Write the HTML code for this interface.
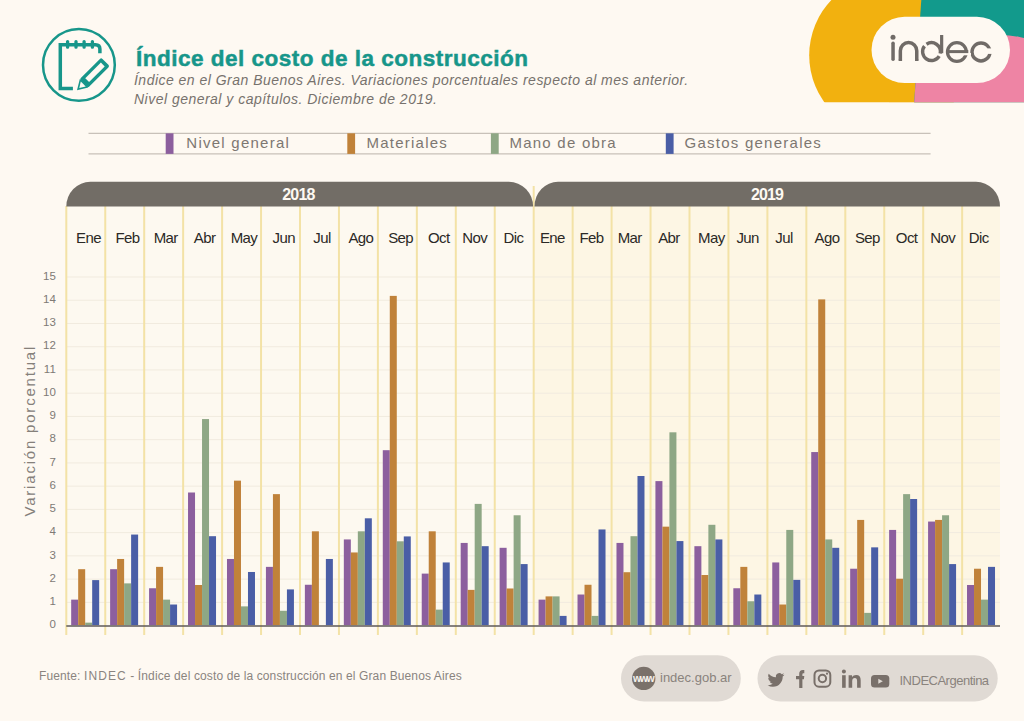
<!DOCTYPE html>
<html><head><meta charset="utf-8"><style>
html,body{margin:0;padding:0;background:#fef9f2;}
body{width:1024px;height:721px;overflow:hidden;position:relative;font-family:"Liberation Sans",sans-serif;}
svg{position:absolute;left:0;top:0;}
text{font-family:"Liberation Sans",sans-serif;}
</style></head><body>
<svg width="1024" height="721" viewBox="0 0 1024 721">
<defs>
<clipPath id="rc"><polygon points="921.3,0 1024,0 1024,102.3 914.2,102.3"/></clipPath>
<clipPath id="yc"><rect x="700" y="0" width="324" height="102.3"/></clipPath>
</defs>
<rect width="1024" height="721" fill="#fef9f2"/>

<g clip-path="url(#yc)"><circle cx="889.2" cy="55.3" r="80" fill="#f2b10f"/><rect x="889" y="0" width="135" height="102.3" fill="#f2b10f"/></g>
<g clip-path="url(#rc)"><rect x="900" y="0" width="124" height="103" fill="#129a8c"/><circle cx="1000" cy="135" r="100" fill="#ee84a4"/></g>
<rect x="871.5" y="16.8" width="138.5" height="66.3" rx="33.15" fill="#fef9f2"/>
<g fill="none" stroke="#706b67" stroke-width="3.5"><path d="M893.05,43.3V59.2" stroke-linecap="round"/><path d="M900.35,59.3V50.75A8.2,8.2 0 0 1 916.75,50.75V59.3" stroke-linecap="round"/><path d="M900.35,59.3V61M916.75,59.3V61"/><path d="M941.65,35V53.2" stroke-width="3.2"/><path d="M926.52,44.27A8.9,8.9 0 0 1 940.21,53.50" stroke-width="3.4"/><path d="M939.21,56.10A8.9,8.9 0 1 1 924.49,46.17" stroke-width="3.4"/><circle cx="956.9" cy="51.95" r="9.4" stroke-width="3.3"/><circle cx="981" cy="51.95" r="9.0" stroke-width="3.4"/></g>
<rect x="957" y="53" width="14" height="2.3" fill="#fef9f2"/>
<rect x="981" y="48.4" width="13" height="5.5" fill="#fef9f2"/>
<rect x="946.5" y="50.1" width="21.8" height="3" fill="#706b67"/>
<circle cx="893.0" cy="37.3" r="2.5" fill="#706b67"/>
<g fill="none" stroke="#17968a">
<circle cx="78.9" cy="64.9" r="35.9" stroke-width="2.5"/>
<path d="M72.9,88.6 H60.3 V44.7 H95.5 Q99.9,44.7 99.9,49.1 V53.3" stroke-width="3.5"/>
<g stroke-width="3.3" stroke-linecap="round"><path d="M67.6,41.6V47.2M76,41.6V47.2M84.1,41.6V47.2M92.4,41.6V47.2"/></g>
</g>
<g transform="translate(77,90.3) rotate(-45)">
<rect x="9.6" y="-6" width="30.6" height="12" rx="1.8" fill="#17968a"/>
<rect x="14.4" y="-2.7" width="22.1" height="5.4" fill="#fef9f2"/>
<polygon points="0,0 10,-6 10,6" fill="#17968a"/>
<polygon points="3.2,0 8.9,-3.5 8.9,3.5" fill="#fef9f2"/>
</g>

<text x="136" y="66" font-size="22.5" font-weight="bold" fill="#17968a" stroke="#17968a" stroke-width="0.5" letter-spacing="0.5">Índice del costo de la construcción</text>
<text x="134" y="84.5" font-size="14" font-style="italic" fill="#77726d" letter-spacing="0.48">Índice en el Gran Buenos Aires. Variaciones porcentuales respecto al mes anterior.</text>
<text x="134" y="104" font-size="14" font-style="italic" fill="#77726d" letter-spacing="0.48">Nivel general y capítulos. Diciembre de 2019.</text>
<g stroke="#c8c1b9" stroke-width="1.2"><line x1="88.5" y1="133.3" x2="930.6" y2="133.3"/><line x1="88.5" y1="153.9" x2="930.6" y2="153.9"/></g>
<rect x="165.7" y="133.3" width="7.8" height="20.6" fill="#8c5f9e"/>
<text x="186.3" y="147.6" font-size="15" letter-spacing="1.25" fill="#7d7771">Nivel general</text>
<rect x="347.3" y="133.3" width="7.8" height="20.6" fill="#c0823a"/>
<text x="366.4" y="147.6" font-size="15" letter-spacing="1.25" fill="#7d7771">Materiales</text>
<rect x="490.9" y="133.3" width="7.8" height="20.6" fill="#8ea785"/>
<text x="509.4" y="147.6" font-size="15" letter-spacing="1.25" fill="#7d7771">Mano de obra</text>
<rect x="665.8" y="133.3" width="7.8" height="20.6" fill="#4a5ea6"/>
<text x="684.5" y="147.6" font-size="15" letter-spacing="1.25" fill="#7d7771">Gastos generales</text>
<rect x="66.3" y="206" width="467.40000000000003" height="420" fill="#fdf9f0"/>
<rect x="533.7" y="206" width="466.3" height="420" fill="#fdf6e4"/>
<line x1="66.3" y1="602.36" x2="1000" y2="602.36" stroke="#f1ebdf" stroke-width="1"/>
<line x1="66.3" y1="579.12" x2="1000" y2="579.12" stroke="#f1ebdf" stroke-width="1"/>
<line x1="66.3" y1="555.88" x2="1000" y2="555.88" stroke="#f1ebdf" stroke-width="1"/>
<line x1="66.3" y1="532.64" x2="1000" y2="532.64" stroke="#f1ebdf" stroke-width="1"/>
<line x1="66.3" y1="509.40" x2="1000" y2="509.40" stroke="#f1ebdf" stroke-width="1"/>
<line x1="66.3" y1="486.16" x2="1000" y2="486.16" stroke="#f1ebdf" stroke-width="1"/>
<line x1="66.3" y1="462.92" x2="1000" y2="462.92" stroke="#f1ebdf" stroke-width="1"/>
<line x1="66.3" y1="439.68" x2="1000" y2="439.68" stroke="#f1ebdf" stroke-width="1"/>
<line x1="66.3" y1="416.44" x2="1000" y2="416.44" stroke="#f1ebdf" stroke-width="1"/>
<line x1="66.3" y1="393.20" x2="1000" y2="393.20" stroke="#f1ebdf" stroke-width="1"/>
<line x1="66.3" y1="369.96" x2="1000" y2="369.96" stroke="#f1ebdf" stroke-width="1"/>
<line x1="66.3" y1="346.72" x2="1000" y2="346.72" stroke="#f1ebdf" stroke-width="1"/>
<line x1="66.3" y1="323.48" x2="1000" y2="323.48" stroke="#f1ebdf" stroke-width="1"/>
<line x1="66.3" y1="300.24" x2="1000" y2="300.24" stroke="#f1ebdf" stroke-width="1"/>
<line x1="66.3" y1="277.00" x2="1000" y2="277.00" stroke="#f1ebdf" stroke-width="1"/>
<line x1="66.30" y1="206" x2="66.30" y2="635" stroke="#f3e2a6" stroke-width="2"/>
<line x1="105.25" y1="206" x2="105.25" y2="635" stroke="#f3e2a6" stroke-width="2"/>
<line x1="144.20" y1="206" x2="144.20" y2="635" stroke="#f3e2a6" stroke-width="2"/>
<line x1="183.15" y1="206" x2="183.15" y2="635" stroke="#f3e2a6" stroke-width="2"/>
<line x1="222.10" y1="206" x2="222.10" y2="635" stroke="#f3e2a6" stroke-width="2"/>
<line x1="261.05" y1="206" x2="261.05" y2="635" stroke="#f3e2a6" stroke-width="2"/>
<line x1="300.00" y1="206" x2="300.00" y2="635" stroke="#f3e2a6" stroke-width="2"/>
<line x1="338.95" y1="206" x2="338.95" y2="635" stroke="#f3e2a6" stroke-width="2"/>
<line x1="377.90" y1="206" x2="377.90" y2="635" stroke="#f3e2a6" stroke-width="2"/>
<line x1="416.85" y1="206" x2="416.85" y2="635" stroke="#f3e2a6" stroke-width="2"/>
<line x1="455.80" y1="206" x2="455.80" y2="635" stroke="#f3e2a6" stroke-width="2"/>
<line x1="494.75" y1="206" x2="494.75" y2="635" stroke="#f3e2a6" stroke-width="2"/>
<line x1="533.70" y1="186" x2="533.70" y2="635" stroke="#f3e2a6" stroke-width="2"/>
<line x1="572.65" y1="206" x2="572.65" y2="635" stroke="#f3e2a6" stroke-width="2"/>
<line x1="611.60" y1="206" x2="611.60" y2="635" stroke="#f3e2a6" stroke-width="2"/>
<line x1="650.55" y1="206" x2="650.55" y2="635" stroke="#f3e2a6" stroke-width="2"/>
<line x1="689.50" y1="206" x2="689.50" y2="635" stroke="#f3e2a6" stroke-width="2"/>
<line x1="728.45" y1="206" x2="728.45" y2="635" stroke="#f3e2a6" stroke-width="2"/>
<line x1="767.40" y1="206" x2="767.40" y2="635" stroke="#f3e2a6" stroke-width="2"/>
<line x1="806.35" y1="206" x2="806.35" y2="635" stroke="#f3e2a6" stroke-width="2"/>
<line x1="845.30" y1="206" x2="845.30" y2="635" stroke="#f3e2a6" stroke-width="2"/>
<line x1="884.25" y1="206" x2="884.25" y2="635" stroke="#f3e2a6" stroke-width="2"/>
<line x1="923.20" y1="206" x2="923.20" y2="635" stroke="#f3e2a6" stroke-width="2"/>
<line x1="962.15" y1="206" x2="962.15" y2="635" stroke="#f3e2a6" stroke-width="2"/>
<path d="M66.3,206.6 A24,24.8 0 0 1 90.3,181.8 H508.8 A24.3,24.8 0 0 1 533.1,206.6 Z" fill="#726d66"/>
<path d="M534.5,206.6 A23.5,24.8 0 0 1 558,181.8 H976 A24,24.8 0 0 1 1000,206.6 Z" fill="#726d66"/>
<text x="298.4" y="199.6" font-size="16" font-weight="bold" fill="#fdf9f2" text-anchor="middle" letter-spacing="-0.85">2018</text>
<text x="767" y="199.6" font-size="16" font-weight="bold" fill="#fdf9f2" text-anchor="middle" letter-spacing="-0.85">2019</text>
<text x="88.5" y="243.4" font-size="15" fill="#2b2926" text-anchor="middle" letter-spacing="-0.6">Ene</text>
<text x="127.5" y="243.4" font-size="15" fill="#2b2926" text-anchor="middle" letter-spacing="-0.6">Feb</text>
<text x="165.7" y="243.4" font-size="15" fill="#2b2926" text-anchor="middle" letter-spacing="-0.6">Mar</text>
<text x="204.6" y="243.4" font-size="15" fill="#2b2926" text-anchor="middle" letter-spacing="-0.6">Abr</text>
<text x="244" y="243.4" font-size="15" fill="#2b2926" text-anchor="middle" letter-spacing="-0.6">May</text>
<text x="283.7" y="243.4" font-size="15" fill="#2b2926" text-anchor="middle" letter-spacing="-0.6">Jun</text>
<text x="322" y="243.4" font-size="15" fill="#2b2926" text-anchor="middle" letter-spacing="-0.6">Jul</text>
<text x="360.9" y="243.4" font-size="15" fill="#2b2926" text-anchor="middle" letter-spacing="-0.6">Ago</text>
<text x="400.6" y="243.4" font-size="15" fill="#2b2926" text-anchor="middle" letter-spacing="-0.6">Sep</text>
<text x="438.8" y="243.4" font-size="15" fill="#2b2926" text-anchor="middle" letter-spacing="-0.6">Oct</text>
<text x="474.8" y="243.4" font-size="15" fill="#2b2926" text-anchor="middle" letter-spacing="-0.6">Nov</text>
<text x="513.5" y="243.4" font-size="15" fill="#2b2926" text-anchor="middle" letter-spacing="-0.6">Dic</text>
<text x="552.4" y="243.4" font-size="15" fill="#2b2926" text-anchor="middle" letter-spacing="-0.6">Ene</text>
<text x="591.5" y="243.4" font-size="15" fill="#2b2926" text-anchor="middle" letter-spacing="-0.6">Feb</text>
<text x="629.7" y="243.4" font-size="15" fill="#2b2926" text-anchor="middle" letter-spacing="-0.6">Mar</text>
<text x="668.9" y="243.4" font-size="15" fill="#2b2926" text-anchor="middle" letter-spacing="-0.6">Abr</text>
<text x="711.3" y="243.4" font-size="15" fill="#2b2926" text-anchor="middle" letter-spacing="-0.6">May</text>
<text x="747.6" y="243.4" font-size="15" fill="#2b2926" text-anchor="middle" letter-spacing="-0.6">Jun</text>
<text x="784" y="243.4" font-size="15" fill="#2b2926" text-anchor="middle" letter-spacing="-0.6">Jul</text>
<text x="827" y="243.4" font-size="15" fill="#2b2926" text-anchor="middle" letter-spacing="-0.6">Ago</text>
<text x="867.4" y="243.4" font-size="15" fill="#2b2926" text-anchor="middle" letter-spacing="-0.6">Sep</text>
<text x="906.6" y="243.4" font-size="15" fill="#2b2926" text-anchor="middle" letter-spacing="-0.6">Oct</text>
<text x="942.8" y="243.4" font-size="15" fill="#2b2926" text-anchor="middle" letter-spacing="-0.6">Nov</text>
<text x="978.8" y="243.4" font-size="15" fill="#2b2926" text-anchor="middle" letter-spacing="-0.6">Dic</text>
<rect x="71.18" y="599.64" width="7.0" height="25.56" fill="#8c5f9e"/>
<rect x="78.18" y="569.19" width="7.0" height="56.01" fill="#c0823a"/>
<rect x="85.18" y="622.64" width="7.0" height="2.56" fill="#8ea785"/>
<rect x="92.18" y="580.11" width="7.0" height="45.09" fill="#4a5ea6"/>
<rect x="110.12" y="569.19" width="7.0" height="56.01" fill="#8c5f9e"/>
<rect x="117.12" y="558.97" width="7.0" height="66.23" fill="#c0823a"/>
<rect x="124.12" y="583.37" width="7.0" height="41.83" fill="#8ea785"/>
<rect x="131.12" y="534.56" width="7.0" height="90.64" fill="#4a5ea6"/>
<rect x="149.07" y="588.25" width="7.0" height="36.95" fill="#8c5f9e"/>
<rect x="156.07" y="566.87" width="7.0" height="58.33" fill="#c0823a"/>
<rect x="163.07" y="599.64" width="7.0" height="25.56" fill="#8ea785"/>
<rect x="170.07" y="604.52" width="7.0" height="20.68" fill="#4a5ea6"/>
<rect x="188.03" y="492.50" width="7.0" height="132.70" fill="#8c5f9e"/>
<rect x="195.03" y="584.99" width="7.0" height="40.21" fill="#c0823a"/>
<rect x="202.03" y="419.06" width="7.0" height="206.14" fill="#8ea785"/>
<rect x="209.03" y="536.19" width="7.0" height="89.01" fill="#4a5ea6"/>
<rect x="226.98" y="558.97" width="7.0" height="66.23" fill="#8c5f9e"/>
<rect x="233.98" y="480.65" width="7.0" height="144.55" fill="#c0823a"/>
<rect x="240.98" y="606.38" width="7.0" height="18.82" fill="#8ea785"/>
<rect x="247.98" y="571.98" width="7.0" height="53.22" fill="#4a5ea6"/>
<rect x="265.93" y="566.87" width="7.0" height="58.33" fill="#8c5f9e"/>
<rect x="272.93" y="494.13" width="7.0" height="131.07" fill="#c0823a"/>
<rect x="279.93" y="610.79" width="7.0" height="14.41" fill="#8ea785"/>
<rect x="286.93" y="589.41" width="7.0" height="35.79" fill="#4a5ea6"/>
<rect x="304.88" y="584.76" width="7.0" height="40.44" fill="#8c5f9e"/>
<rect x="311.88" y="531.31" width="7.0" height="93.89" fill="#c0823a"/>
<rect x="325.88" y="558.97" width="7.0" height="66.23" fill="#4a5ea6"/>
<rect x="343.83" y="539.44" width="7.0" height="85.76" fill="#8c5f9e"/>
<rect x="350.83" y="552.46" width="7.0" height="72.74" fill="#c0823a"/>
<rect x="357.83" y="531.31" width="7.0" height="93.89" fill="#8ea785"/>
<rect x="364.83" y="518.30" width="7.0" height="106.90" fill="#4a5ea6"/>
<rect x="382.78" y="450.20" width="7.0" height="175.00" fill="#8c5f9e"/>
<rect x="389.78" y="295.89" width="7.0" height="329.31" fill="#c0823a"/>
<rect x="396.78" y="541.30" width="7.0" height="83.90" fill="#8ea785"/>
<rect x="403.78" y="536.42" width="7.0" height="88.78" fill="#4a5ea6"/>
<rect x="421.73" y="573.61" width="7.0" height="51.59" fill="#8c5f9e"/>
<rect x="428.73" y="531.31" width="7.0" height="93.89" fill="#c0823a"/>
<rect x="435.73" y="609.63" width="7.0" height="15.57" fill="#8ea785"/>
<rect x="442.73" y="562.45" width="7.0" height="62.75" fill="#4a5ea6"/>
<rect x="460.68" y="542.93" width="7.0" height="82.27" fill="#8c5f9e"/>
<rect x="467.68" y="589.88" width="7.0" height="35.32" fill="#c0823a"/>
<rect x="474.68" y="503.89" width="7.0" height="121.31" fill="#8ea785"/>
<rect x="481.68" y="546.18" width="7.0" height="79.02" fill="#4a5ea6"/>
<rect x="499.62" y="547.81" width="7.0" height="77.39" fill="#8c5f9e"/>
<rect x="506.62" y="588.48" width="7.0" height="36.72" fill="#c0823a"/>
<rect x="513.62" y="515.27" width="7.0" height="109.93" fill="#8ea785"/>
<rect x="520.62" y="564.08" width="7.0" height="61.12" fill="#4a5ea6"/>
<rect x="538.58" y="599.64" width="7.0" height="25.56" fill="#8c5f9e"/>
<rect x="545.58" y="596.38" width="7.0" height="28.82" fill="#c0823a"/>
<rect x="552.58" y="596.38" width="7.0" height="28.82" fill="#8ea785"/>
<rect x="559.58" y="615.90" width="7.0" height="9.30" fill="#4a5ea6"/>
<rect x="577.52" y="594.52" width="7.0" height="30.68" fill="#8c5f9e"/>
<rect x="584.52" y="584.76" width="7.0" height="40.44" fill="#c0823a"/>
<rect x="591.52" y="615.90" width="7.0" height="9.30" fill="#8ea785"/>
<rect x="598.52" y="529.45" width="7.0" height="95.75" fill="#4a5ea6"/>
<rect x="616.48" y="542.93" width="7.0" height="82.27" fill="#8c5f9e"/>
<rect x="623.48" y="572.21" width="7.0" height="52.99" fill="#c0823a"/>
<rect x="630.48" y="536.19" width="7.0" height="89.01" fill="#8ea785"/>
<rect x="637.48" y="476.00" width="7.0" height="149.20" fill="#4a5ea6"/>
<rect x="655.42" y="481.11" width="7.0" height="144.09" fill="#8c5f9e"/>
<rect x="662.42" y="526.66" width="7.0" height="98.54" fill="#c0823a"/>
<rect x="669.42" y="432.31" width="7.0" height="192.89" fill="#8ea785"/>
<rect x="676.42" y="541.07" width="7.0" height="84.13" fill="#4a5ea6"/>
<rect x="694.38" y="546.18" width="7.0" height="79.02" fill="#8c5f9e"/>
<rect x="701.38" y="575.00" width="7.0" height="50.20" fill="#c0823a"/>
<rect x="708.38" y="524.80" width="7.0" height="100.40" fill="#8ea785"/>
<rect x="715.38" y="539.44" width="7.0" height="85.76" fill="#4a5ea6"/>
<rect x="733.33" y="588.25" width="7.0" height="36.95" fill="#8c5f9e"/>
<rect x="740.33" y="566.87" width="7.0" height="58.33" fill="#c0823a"/>
<rect x="747.33" y="601.26" width="7.0" height="23.94" fill="#8ea785"/>
<rect x="754.33" y="594.52" width="7.0" height="30.68" fill="#4a5ea6"/>
<rect x="772.27" y="562.45" width="7.0" height="62.75" fill="#8c5f9e"/>
<rect x="779.27" y="604.52" width="7.0" height="20.68" fill="#c0823a"/>
<rect x="786.27" y="529.92" width="7.0" height="95.28" fill="#8ea785"/>
<rect x="793.27" y="579.88" width="7.0" height="45.32" fill="#4a5ea6"/>
<rect x="811.23" y="452.06" width="7.0" height="173.14" fill="#8c5f9e"/>
<rect x="818.23" y="299.38" width="7.0" height="325.82" fill="#c0823a"/>
<rect x="825.23" y="539.44" width="7.0" height="85.76" fill="#8ea785"/>
<rect x="832.23" y="547.81" width="7.0" height="77.39" fill="#4a5ea6"/>
<rect x="850.17" y="568.73" width="7.0" height="56.47" fill="#8c5f9e"/>
<rect x="857.17" y="519.92" width="7.0" height="105.28" fill="#c0823a"/>
<rect x="864.17" y="612.88" width="7.0" height="12.32" fill="#8ea785"/>
<rect x="871.17" y="547.35" width="7.0" height="77.85" fill="#4a5ea6"/>
<rect x="889.12" y="529.92" width="7.0" height="95.28" fill="#8c5f9e"/>
<rect x="896.12" y="578.72" width="7.0" height="46.48" fill="#c0823a"/>
<rect x="903.12" y="494.13" width="7.0" height="131.07" fill="#8ea785"/>
<rect x="910.12" y="499.01" width="7.0" height="126.19" fill="#4a5ea6"/>
<rect x="928.08" y="521.55" width="7.0" height="103.65" fill="#8c5f9e"/>
<rect x="935.08" y="519.92" width="7.0" height="105.28" fill="#c0823a"/>
<rect x="942.08" y="515.27" width="7.0" height="109.93" fill="#8ea785"/>
<rect x="949.08" y="564.08" width="7.0" height="61.12" fill="#4a5ea6"/>
<rect x="967.02" y="584.99" width="7.0" height="40.21" fill="#8c5f9e"/>
<rect x="974.02" y="568.73" width="7.0" height="56.47" fill="#c0823a"/>
<rect x="981.02" y="599.64" width="7.0" height="25.56" fill="#8ea785"/>
<rect x="988.02" y="566.87" width="7.0" height="58.33" fill="#4a5ea6"/>
<line x1="66.3" y1="626.0" x2="1000" y2="626.0" stroke="#5e5959" stroke-width="1.6"/>
<text x="55.8" y="628.30" font-size="11.5" fill="#7f7a75" text-anchor="end">0</text>
<text x="55.8" y="605.06" font-size="11.5" fill="#7f7a75" text-anchor="end">1</text>
<text x="55.8" y="581.82" font-size="11.5" fill="#7f7a75" text-anchor="end">2</text>
<text x="55.8" y="558.58" font-size="11.5" fill="#7f7a75" text-anchor="end">3</text>
<text x="55.8" y="535.34" font-size="11.5" fill="#7f7a75" text-anchor="end">4</text>
<text x="55.8" y="512.10" font-size="11.5" fill="#7f7a75" text-anchor="end">5</text>
<text x="55.8" y="488.86" font-size="11.5" fill="#7f7a75" text-anchor="end">6</text>
<text x="55.8" y="465.62" font-size="11.5" fill="#7f7a75" text-anchor="end">7</text>
<text x="55.8" y="442.38" font-size="11.5" fill="#7f7a75" text-anchor="end">8</text>
<text x="55.8" y="419.14" font-size="11.5" fill="#7f7a75" text-anchor="end">9</text>
<text x="55.8" y="395.90" font-size="11.5" fill="#7f7a75" text-anchor="end">10</text>
<text x="55.8" y="372.66" font-size="11.5" fill="#7f7a75" text-anchor="end">11</text>
<text x="55.8" y="349.42" font-size="11.5" fill="#7f7a75" text-anchor="end">12</text>
<text x="55.8" y="326.18" font-size="11.5" fill="#7f7a75" text-anchor="end">13</text>
<text x="55.8" y="302.94" font-size="11.5" fill="#7f7a75" text-anchor="end">14</text>
<text x="55.8" y="279.70" font-size="11.5" fill="#7f7a75" text-anchor="end">15</text>
<text transform="translate(34.8,430.7) rotate(-90)" font-size="15" fill="#85807a" text-anchor="middle" letter-spacing="1.8">Variación porcentual</text>
<text x="39" y="680" font-size="12" fill="#8a847f" letter-spacing="0.12">Fuente: <tspan letter-spacing="1.1">INDEC</tspan> - Índice del costo de la construcción en el Gran Buenos Aires</text>
<rect x="621" y="655.3" width="119.8" height="46.1" rx="23" fill="#e0dad4"/>
<circle cx="643.7" cy="678.4" r="11.7" fill="#7a716a"/>
<text x="643.2" y="681.6" font-size="10.5" font-weight="bold" fill="#f4f0ea" text-anchor="middle" letter-spacing="-1.4">www</text>
<text x="660" y="682.3" font-size="13" fill="#8a837d">indec.gob.ar</text>
<rect x="757.5" y="655.3" width="240.2" height="46.1" rx="23" fill="#e0dad4"/>
<path fill="#79706a" transform="translate(767.6,671.5) scale(0.7)" d="M24,4.56a9.83,9.83,0,0,1-2.83.78A4.93,4.93,0,0,0,23.34,2.6a9.86,9.86,0,0,1-3.13,1.2A4.92,4.92,0,0,0,11.83,8.28,14,14,0,0,1,1.67,3.15,4.92,4.92,0,0,0,3.19,9.72,4.9,4.9,0,0,1,1,9.1v.06a4.93,4.93,0,0,0,3.95,4.83,4.93,4.93,0,0,1-2.22.08,4.93,4.93,0,0,0,4.6,3.42A9.88,9.88,0,0,1,0,19.54a13.94,13.94,0,0,0,7.55,2.21c9.06,0,14-7.5,14-14,0-.21,0-.43,0-.64A10,10,0,0,0,24,4.56Z"/>
<path fill="#79706a" d="M799.2,688 V679.2 H796 V676 H799.2 V673.8 Q799.2,670 803,670 H804.3 V673.2 H803.3 Q802.4,673.2 802.4,674.2 V676 H804.3 L803.9,679.2 H802.4 V688 Z"/>
<rect x="814.5" y="670.4" width="15.8" height="16.3" rx="4.5" fill="none" stroke="#79706a" stroke-width="2"/>
<circle cx="822.4" cy="678.5" r="3.7" fill="none" stroke="#79706a" stroke-width="2"/>
<circle cx="827" cy="673.7" r="1.1" fill="#79706a"/>
<rect x="842.1" y="675.2" width="3.6" height="12.6" fill="#79706a"/><circle cx="843.9" cy="671.4" r="2" fill="#79706a"/>
<path fill="#79706a" d="M848.6,675.2 H852 V677 Q853.3,674.9 856.2,674.9 Q860.7,674.9 860.7,680.2 V687.8 H857.1 V681 Q857.1,678 854.9,678 Q852.2,678 852.2,681.3 V687.8 H848.6 Z"/>
<rect x="871" y="675" width="18.3" height="12.5" rx="3.5" fill="#79706a"/><polygon points="878.3,678.7 878.3,683.8 882.8,681.2" fill="#e0dad4"/>
<text x="899.5" y="685.3" font-size="13" fill="#8a837d" letter-spacing="-0.5">INDECArgentina</text>
</svg></body></html>
